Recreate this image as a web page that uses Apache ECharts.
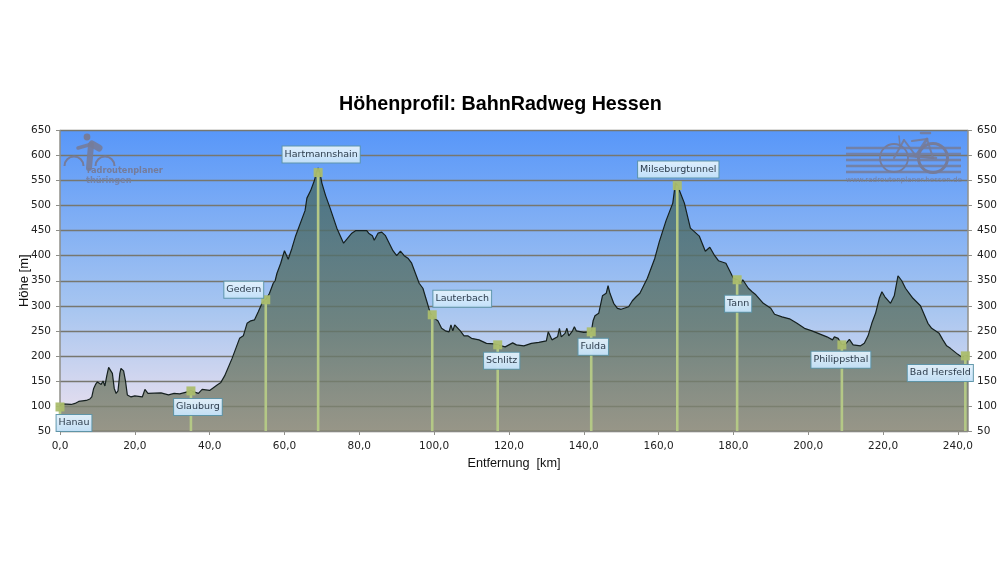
<!DOCTYPE html>
<html>
<head>
<meta charset="utf-8">
<title>Höhenprofil</title>
<script src="https://cdn.jsdelivr.net/npm/echarts@6/dist/echarts.min.js"></script>
<style>
  html, body { margin: 0; padding: 0; background: #fff; }
  #chart { width: 1000px; height: 563px; }
</style>
</head>
<body>
<div id="chart"></div>
<script>
  // Hoehenprofil, Werte
  const distanceKm = [0,0.5,1,3,4,5,7,8,8.5,9,9.5,10,11,11.5,12,12.5,13,14,14.5,15,15.5,16,16.3,17,17.5,18,19,20,22,22.7,23.5,24,27,29,30.5,32,35,37,38,40,42,43,44,46,47.5,48,49,50,51,52,53,54,54.5,55,56,57,57.5,58,59,60,60.5,61,62,63,65,65.5,66,67,68,68.5,69,69.5,70,71,72.2,74,75.8,78,79,82,82.5,83.5,84,85,86,87,88,89,90,91,92,93,94,95,96,97,98,99,100,101,102,103,104,104.5,105,105.5,106,107,108,109,110,112,114,116,117,118,119,120,121,122,124,126,128,130,130.5,131,131.5,132,133,133.5,134,135,135.5,136,137,137.5,138,140,142,142.5,143,144,145,146,146.5,147,148,149,150,152,153,154,155,156,157,158,159,160.2,162,163.8,164.5,165,166.9,168.5,170.9,172.5,173.7,175,176,178,179,180,181,182,182.5,184,185,186,188,190,191,193,195,197,199,201,203,205,206.5,207,208,209,210,211,212,214,215,216,217,218,219,219.7,220.5,222,222.5,223,224,225,226,227,228,228.5,230,232,233,235,236,237,238,240,241,242.7];
  const heightM = [100,104,104,103,105,109,111,114,118,135,143,148,143,150,140,160,177,165,135,125,130,165,175,170,150,122,118,120,118,133,125,122,126,122,125,124,130,125,133,131,142,147,160,195,225,235,240,265,270,272,288,305,303,312,325,345,350,365,385,410,408,393,415,440,480,490,515,530,550,565,575,565,545,520,495,455,425,445,450,450,445,440,431,445,447,440,425,410,400,409,400,395,385,365,345,335,310,285,275,270,255,250,248,262,250,262,260,250,240,240,235,232,225,224,222,220,218,222,226,222,220,225,227,230,248,250,232,235,238,255,238,245,255,240,250,258,250,247,248,270,280,285,320,325,340,325,305,295,293,298,310,318,325,340,355,375,395,428,470,505,545,541,505,455,439,409,417,400,390,385,370,355,352,345,352,335,328,322,305,295,283,278,274,265,255,250,244,238,232,238,235,222,224,233,222,220,225,240,265,285,315,328,318,305,302,320,360,350,335,325,315,318,300,265,255,245,232,220,215,203,198,200];

  const stationNames = ["Hanau","Glauburg","Gedern","Hartmannshain","Lauterbach","Schlitz","Fulda","Milseburgtunnel","Tann","Philippsthal","Bad Hersfeld"];
  const stationKm = [0,35,55,69,99.5,117,142,165,181,209,242];
  const stationHeight = [98,130,312,566,282,222,248,540,352,222,200];

  const xTicks = [0,20,40,60,80,100,120,140,160,180,200,220,240];

  const chartTitle = "Höhenprofil: BahnRadweg Hessen";
  const xName = "Entfernung  [km]";
  const yName = "Höhe [m]";
  const logoLeft = ["radroutenplaner","thüringen"];
  const logoRight = "www.radroutenplaner.hessen.de";

  // Versatz der Beschriftungen zum Punkt
  const labelOffset = {
    "Hanau": [14,16], "Glauburg": [7,16], "Gedern": [-22,-10], "Hartmannshain": [3,-18],
    "Lauterbach": [30,-16], "Schlitz": [4,16], "Fulda": [2,15], "Milseburgtunnel": [1,-16],
    "Tann": [1,24], "Philippsthal": [-1,15], "Bad Hersfeld": [-25,17]
  };

  const axisFont = '"DejaVu Sans", sans-serif';
  const gray = '#8f8f8a';
  const logoColor = '#767c9a';
  const grad = (a, b, c) => new echarts.graphic.LinearGradient(0, 0, 0, 1, c ? [
    { offset: 0, color: a }, { offset: 0.6, color: b }, { offset: 1, color: c }
  ] : [{ offset: 0, color: a }, { offset: 1, color: b }]);

  const stripes = [148, 154, 160, 166, 172].map(y => ({
    type: 'rect', z: 1, shape: { x: 846, y: y - 1.3, width: 115, height: 2.6 },
    style: { fill: logoColor, opacity: 0.85 }
  }));
  const line = (x1, y1, x2, y2, w, o) => ({
    type: 'line', z: 1, shape: { x1, y1, x2, y2 },
    style: { stroke: logoColor, lineWidth: w || 2, opacity: o || 0.9, lineCap: 'round' }
  });
  const logoGraphics = [
    // Radfahrer links
    { type: 'circle', z: 1, shape: { cx: 87, cy: 137, r: 3.4 }, style: { fill: logoColor } },
    { type: 'arc', z: 1, shape: { cx: 74, cy: 166, r: 9.5, startAngle: Math.PI, endAngle: 2 * Math.PI }, style: { stroke: logoColor, fill: 'none', lineWidth: 2 } },
    { type: 'arc', z: 1, shape: { cx: 105, cy: 166, r: 9.5, startAngle: Math.PI, endAngle: 2 * Math.PI }, style: { stroke: logoColor, fill: 'none', lineWidth: 2 } },
    line(78, 148, 92, 144, 3.5), line(91, 145, 89, 168, 6), line(92, 144, 99, 148, 7),
    { type: 'text', z: 1, style: { x: 87, y: 167, text: logoLeft[0], fill: logoColor, font: 'bold 8.2px "DejaVu Sans"' } },
    { type: 'text', z: 1, style: { x: 86, y: 177, text: logoLeft[1], fill: logoColor, font: 'bold 8.2px "DejaVu Sans"', opacity: 0.8 } },
    // Fahrrad rechts
    ...stripes,
    { type: 'circle', z: 1, shape: { cx: 894, cy: 158, r: 14 }, style: { stroke: logoColor, fill: 'none', lineWidth: 1.8 } },
    { type: 'circle', z: 1, shape: { cx: 933, cy: 158, r: 14.5 }, style: { stroke: logoColor, fill: 'none', lineWidth: 3 } },
    line(894, 158, 904, 140), line(904, 140, 916, 156), line(916, 156, 933, 158),
    line(912, 141, 927, 139), line(927, 139, 916, 156, 3), line(927, 139, 933, 158),
    line(899, 136, 900, 146, 1.5), line(921, 133, 930, 133, 2.5), line(908, 156, 936, 158, 2.5),
    { type: 'text', z: 1, style: { x: 846, y: 177, text: logoRight, fill: logoColor, font: '7.2px "DejaVu Sans"' } }
  ];

  const yAxisBase = {
    type: 'value', min: 50, max: 650, interval: 50,
    axisLine: { show: true, lineStyle: { color: gray, width: 1.5 } },
    axisTick: { show: true, length: 4, lineStyle: { color: gray } },
    axisLabel: { color: '#222', fontFamily: axisFont, fontSize: 10.5, margin: 9 }
  };

  // senkrechte Linien von der Achse bis zum Ort, getrennt durch Luecken
  const dropLines = [];
  stationKm.forEach((km, i) => {
    dropLines.push([km, 50], [km, stationHeight[i]], [km, '-']);
  });

  const myChart = echarts.init(document.getElementById('chart'));
  myChart.setOption({
    animation: false,
    title: {
      text: chartTitle, left: 334, top: 90,
      textStyle: { fontFamily: '"Liberation Sans"', fontSize: 19.7, fontWeight: 'bold', color: '#000' }
    },
    grid: {
      left: 60, top: 130.5, width: 908, height: 300.5, show: true, borderWidth: 0,
      backgroundColor: grad('#5897f9', '#a8c6f0', '#f0e2ee')
    },
    graphic: logoGraphics,
    xAxis: {
      type: 'value', min: 0, max: 242.7,
      name: xName, nameLocation: 'middle', nameGap: 26,
      nameTextStyle: { fontFamily: '"Liberation Sans"', fontSize: 12.7, color: '#111' },
      axisLine: { show: true, onZero: false, lineStyle: { color: gray, width: 1.5 } },
      axisTick: { show: true, length: 4, lineStyle: { color: gray }, customValues: xTicks },
      axisLabel: {
        color: '#222', fontFamily: axisFont, fontSize: 10.5, margin: 10, customValues: xTicks,
        formatter: v => v.toFixed(1).replace('.', ',')
      },
      splitLine: { show: false }
    },
    yAxis: [
      Object.assign({}, yAxisBase, {
        position: 'left', name: yName, nameLocation: 'middle', nameGap: 29, nameMoveOverlap: false,
        nameTextStyle: { fontFamily: '"Liberation Sans"', fontSize: 13, color: '#111' },
        splitLine: { show: true, lineStyle: { color: '#77776f', width: 1.4 } }
      }),
      Object.assign({}, yAxisBase, { position: 'right', splitLine: { show: false } })
    ],
    series: [
      {
        name: 'Profil', type: 'line', z: 2, symbol: 'none', smooth: false,
        lineStyle: { color: '#15201f', width: 1.2 },
        areaStyle: { origin: 'start', opacity: 1, color: grad('rgba(66,106,112,0.82)', 'rgba(96,116,104,0.82)', 'rgba(132,133,113,0.82)') },
        data: distanceKm.map((km, i) => [km, heightM[i]])
      },
      {
        name: 'Orte', type: 'line', z: 3, symbol: 'none', silent: true, connectNulls: false,
        lineStyle: { color: '#b4c886', width: 2.6 },
        data: dropLines
      },
      {
        name: 'Beschriftung', type: 'scatter', z: 4, symbol: 'rect', symbolSize: 9,
        itemStyle: { color: '#abbd6d', opacity: 0.95 },
        data: stationNames.map((name, i) => ({
          name, value: [stationKm[i], stationHeight[i]],
          label: {
            show: true, position: 'inside', offset: labelOffset[name], formatter: name,
            color: '#1f2d3d', fontFamily: axisFont, fontSize: 9.5,
            backgroundColor: grad('#e6f3fd', '#c4e2fa'),
            borderColor: '#5d95a9', borderWidth: 1, padding: [3, 2, 3, 2]
          }
        }))
      }
    ]
  });
</script>
</body>
</html>
